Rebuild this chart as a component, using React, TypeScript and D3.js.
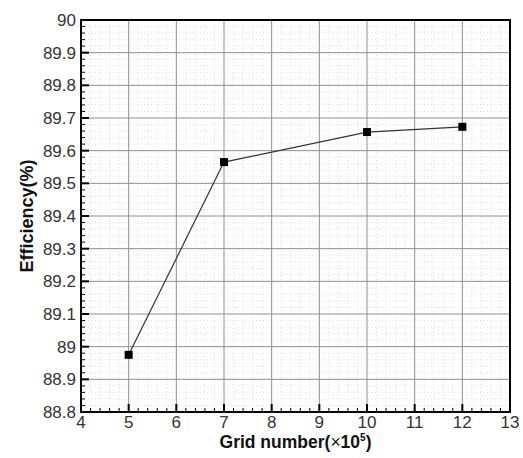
import React from "react";
import * as d3 from "d3";

// Mesh-independence study: efficiency vs. grid count
const gridNumbers = [5, 7, 10, 12];
const efficiency = [88.975, 89.565, 89.657, 89.673];
const xTicks = [4, 5, 6, 7, 8, 9, 10, 11, 12, 13];
const yTicks = [88.8, 88.9, 89, 89.1, 89.2, 89.3, 89.4, 89.5, 89.6, 89.7, 89.8, 89.9, 90];

const W = 523;
const H = 458;
const margin = { left: 81, right: 13, top: 20, bottom: 46 };

export default function App() {
  const x = d3.scaleLinear().domain([4, 13]).range([margin.left, W - margin.right]);
  const y = d3.scaleLinear().domain([88.8, 90]).range([H - margin.bottom, margin.top]);

  const xMinor = d3.range(4, 13.0001, 0.2).filter((v) => Math.abs(v - Math.round(v)) > 1e-6);
  const yMinor = d3.range(88.8, 90.0001, 0.02).filter((v) => Math.abs(v * 10 - Math.round(v * 10)) > 1e-6);

  const line = d3
    .line<number>()
    .x((_, i) => x(gridNumbers[i]))
    .y((d) => y(d));

  const x0 = x(4);
  const x1 = x(13);
  const y0 = y(88.8);
  const y1 = y(90);
  const font = "Liberation Sans, Arial, sans-serif";

  return (
    <svg width={W} height={H} style={{ position: "absolute", left: 0, top: 0, background: "#fff" }}>
      {/* minor dotted grid */}
      <g stroke="#d4d4d4" strokeWidth={0.8} strokeDasharray="1,2.5">
        {xMinor.map((v) => (
          <line key={"xm" + v} x1={x(v)} x2={x(v)} y1={y1} y2={y0} />
        ))}
        {yMinor.map((v) => (
          <line key={"ym" + v} x1={x0} x2={x1} y1={y(v)} y2={y(v)} />
        ))}
      </g>
      {/* major grid */}
      <g stroke="#8f8f8f" strokeWidth={1}>
        {xTicks.slice(1, -1).map((v) => (
          <line key={"xg" + v} x1={x(v)} x2={x(v)} y1={y1} y2={y0} />
        ))}
        {yTicks.slice(1, -1).map((v) => (
          <line key={"yg" + v} x1={x0} x2={x1} y1={y(v)} y2={y(v)} />
        ))}
      </g>
      {/* inward ticks */}
      <g stroke="#000">
        {xTicks.map((v) => (
          <line key={"xt" + v} x1={x(v)} x2={x(v)} y1={y0} y2={y0 - 8} strokeWidth={2} />
        ))}
        {xMinor.map((v) => (
          <line key={"xmt" + v} x1={x(v)} x2={x(v)} y1={y0} y2={y0 - 4} strokeWidth={1} />
        ))}
        {yTicks.map((v) => (
          <line key={"yt" + v} x1={x0} x2={x0 + 8} y1={y(v)} y2={y(v)} strokeWidth={2} />
        ))}
        {yMinor.map((v) => (
          <line key={"ymt" + v} x1={x0} x2={x0 + 4} y1={y(v)} y2={y(v)} strokeWidth={1} />
        ))}
      </g>
      {/* frame */}
      <rect x={x0} y={y1} width={x1 - x0} height={y0 - y1} fill="none" stroke="#000" strokeWidth={2} />
      {/* data */}
      <path d={line(efficiency) ?? ""} fill="none" stroke="#333" strokeWidth={1.2} />
      {efficiency.map((v, i) => (
        <rect key={"m" + i} x={x(gridNumbers[i]) - 4} y={y(v) - 4} width={8} height={8} fill="#000" />
      ))}
      {/* tick labels */}
      <g fontFamily={font} fontSize={17} fill="#333">
        {xTicks.map((v) => (
          <text key={"xl" + v} x={x(v)} y={y0 + 16} textAnchor="middle">
            {v}
          </text>
        ))}
        {yTicks.map((v) => (
          <text key={"yl" + v} x={x0 - 5} y={y(v) + 6} textAnchor="end">
            {d3.format("~g")(v)}
          </text>
        ))}
      </g>
      {/* axis titles */}
      <text
        x={(x0 + x1) / 2}
        y={H - 10}
        textAnchor="middle"
        fontFamily={font}
        fontSize={17.5}
        fontWeight="bold"
        fill="#111"
      >
        Grid number(
        <tspan fontWeight="normal">×</tspan>
        10
        <tspan dy={-7} fontSize={10}>5</tspan>
        <tspan dy={7}>)</tspan>
      </text>
      <text
        transform={`translate(33,${(y0 + y1) / 2}) rotate(-90)`}
        textAnchor="middle"
        fontFamily={font}
        fontSize={18}
        fontWeight="bold"
        fill="#111"
      >
        Efficiency(%)
      </text>
    </svg>
  );
}
